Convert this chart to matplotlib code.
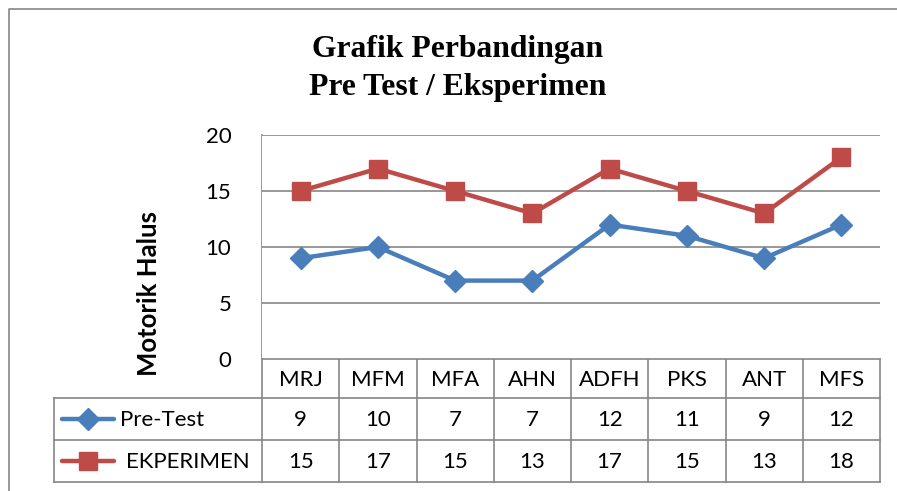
import matplotlib
matplotlib.use("Agg")
import matplotlib.pyplot as plt
from matplotlib.transforms import blended_transform_factory
from matplotlib.lines import Line2D

categories = ["MRJ", "MFM", "MFA", "AHN", "ADFH", "PKS", "ANT", "MFS"]
pre_test = [9, 10, 7, 7, 12, 11, 9, 12]
eksperimen = [15, 17, 15, 13, 17, 15, 13, 18]
series_names = ["Pre-Test", "EKPERIMEN"]
y_ticks = [0, 5, 10, 15, 20]
title_lines = ["Grafik Perbandingan", "Pre Test / Eksperimen"]
y_label = "Motorik Halus"

W, H = 897, 491
BLUE = "#4A7EBB"
RED = "#BE4B48"
GRID = "#868686"
FONT = "Lato"

fig = plt.figure(figsize=(W / 100, H / 100), dpi=100)
fig.patch.set_facecolor("white")

# pixel overlay axes
pax = fig.add_axes([0, 0, 1, 1])
pax.set_xlim(0, W)
pax.set_ylim(H, 0)
pax.axis("off")

# plot area
x0, x1, ytop, ybot = 262, 880, 135, 359
ax = fig.add_axes([x0 / W, 1 - ybot / H, (x1 - x0) / W, (ybot - ytop) / H])
n = len(categories)
ax.set_xlim(-0.5, n - 0.5)
ax.set_ylim(0, 20)
for s in ax.spines.values():
    s.set_visible(False)
ax.set_yticks(y_ticks)
ax.set_yticklabels([str(t) for t in y_ticks], fontsize=16, family=FONT)
ax.tick_params(axis="y", length=0, pad=22)
ax.set_xticks([])
ax.yaxis.grid(True, color=GRID, linewidth=1.2)
ax.set_axisbelow(True)

fig.text(149 / W, 1 - 294 / H, y_label, rotation=90, ha="center", va="center",
         fontsize=18.5, fontweight="bold", family=FONT)

xs = list(range(n))
ax.plot(xs, pre_test, color=BLUE, linewidth=3.2, marker="D", markersize=11,
        markerfacecolor=BLUE, markeredgecolor=BLUE, zorder=3, clip_on=False)
ax.plot(xs, eksperimen, color=RED, linewidth=3.2, marker="s", markersize=13,
        markerfacecolor=RED, markeredgecolor=RED, zorder=3, clip_on=False)

# title
fig.text(458 / W, 1 - 57 / H, title_lines[0], ha="center", va="baseline",
         fontsize=22.8, fontweight="bold", family="Liberation Serif")
fig.text(458 / W, 1 - 95 / H, title_lines[1], ha="center", va="baseline",
         fontsize=22.8, fontweight="bold", family="Liberation Serif")

# cut-off caption at very top
fig.text(-10 / W, 1 + 9 / H, "Grafik Perbandingan Pre Test dengan Eksperimen",
         ha="left", va="baseline", fontsize=21, family="Liberation Sans")

# chart frame
pax.plot([8.5, 8.5, W], [H, 8.5, 8.5], color=GRID, linewidth=1.2)

# data table
tr = blended_transform_factory(ax.transData, pax.transData)
lc = dict(color=GRID, linewidth=1.2)
row_y = [359, 398, 440, 482]
pax.plot([x0, x1], [row_y[0], row_y[0]], **lc)
for y in row_y[1:]:
    pax.plot([54, x1], [y, y], **lc)
pax.plot([x0, x0], [ytop, row_y[-1]], **lc)
pax.plot([54, 54], [row_y[1], row_y[-1]], **lc)
for i in range(1, n + 1):
    pax.add_line(Line2D([i - 0.5, i - 0.5], [row_y[0], row_y[-1]], transform=tr, **lc))

for i, c in enumerate(categories):
    pax.text(i, (row_y[0] + row_y[1]) / 2 + 1, c, transform=tr, ha="center", va="center",
             fontsize=16, family=FONT)
    pax.text(i, (row_y[1] + row_y[2]) / 2 + 1, str(pre_test[i]), transform=tr, ha="center",
             va="center", fontsize=16, family=FONT)
    pax.text(i, (row_y[2] + row_y[3]) / 2 + 1, str(eksperimen[i]), transform=tr, ha="center",
             va="center", fontsize=16, family=FONT)

# legend keys
ky1 = (row_y[1] + row_y[2]) / 2
ky2 = (row_y[2] + row_y[3]) / 2
pax.plot([62, 114], [ky1, ky1], color=BLUE, linewidth=3.2, solid_capstyle="round")
pax.plot([88], [ky1], marker="D", markersize=11, color=BLUE)
pax.plot([62, 114], [ky2, ky2], color=RED, linewidth=3.2, solid_capstyle="round")
pax.plot([88], [ky2], marker="s", markersize=13, color=RED)
pax.text(120, ky1 + 1, series_names[0], ha="left", va="center", fontsize=16, family=FONT)
pax.text(126, ky2 + 1, series_names[1], ha="left", va="center", fontsize=16, family=FONT)

fig.savefig("out.png", dpi=100)
